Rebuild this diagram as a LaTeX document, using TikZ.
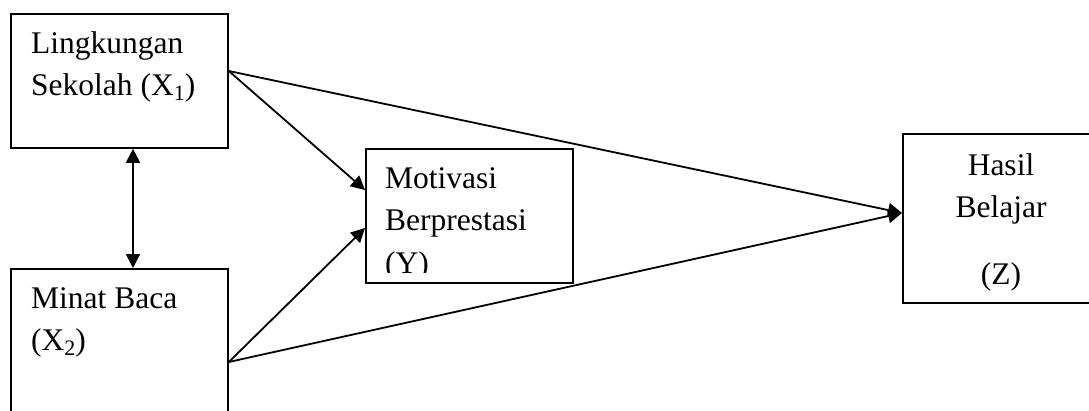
\documentclass[tikz,border=0pt]{standalone}
\usepackage{fontspec}
\setmainfont{Liberation Serif}
\usetikzlibrary{arrows.meta}
\newcommand\lowidx[1]{\raisebox{-5pt}{\fontsize{22}{22}\selectfont #1}}
\tikzset{
  box/.style={draw, line width=1.8pt, inner sep=0pt, anchor=north west},
  label/.style={anchor=base west, inner sep=0pt, font=\fontsize{31.5}{38}\selectfont},
  clabel/.style={anchor=base, inner sep=0pt, font=\fontsize{31.5}{38}\selectfont},
  link/.style={line width=1.8pt, -{Triangle[length=14pt,width=14pt]}},
  bilink/.style={line width=1.8pt, {Triangle[length=14pt,width=14pt]}-{Triangle[length=14pt,width=14pt]}}
}
\begin{document}
\begin{tikzpicture}[x=1pt,y=-1pt]
  \useasboundingbox (0,0) rectangle (1089,410);
  \clip (0,0) rectangle (1089,410);

  % boxes
  \node[box, minimum width=217pt, minimum height=134pt] (x1) at (10,13) {};
  \node[box, minimum width=217pt, minimum height=150pt] (x2) at (10,268) {};
  \node[box, minimum width=207pt, minimum height=134pt] (y) at (365,148) {};
  \node[box, minimum width=200pt, minimum height=169pt] (z) at (902,133) {};

  % box texts
  \node[label] (x1a) at (31,53) {Lingkungan};
  \node[label] (x1b) at (31,95) {Sekolah (X\lowidx{1})};
  \node[label] (x2a) at (31,308) {Minat Baca};
  \node[label] (x2b) at (31,350) {(X\lowidx{2})};
  \begin{scope}
    \clip (365,140) rectangle (572,272);
    \node[label] (ya) at (385,188) {Motivasi};
    \node[label] (yb) at (385,230) {Berprestasi};
    \node[label] (yc) at (385,273) {(Y)};
  \end{scope}
  \node[clabel] (za) at (1001,175) {Hasil};
  \node[clabel] (zb) at (1001,217) {Belajar};
  \node[clabel] (zc) at (1001,284) {(Z)};

  % connector ports
  \coordinate (x1out) at ([yshift=-58pt]x1.north east);
  \coordinate (x2out) at ([yshift=-94pt]x2.north east);
  \coordinate (yin1) at ([yshift=-42pt]y.north west);
  \coordinate (yin2) at ([yshift=-80pt]y.north west);
  \coordinate (zin) at ([yshift=-80pt]z.north west);
  \coordinate (x1bot) at (x1.south -| 133,0);
  \coordinate (x2top) at (x2.north -| 133,0);

  % connectors
  \draw[bilink] (x1bot) -- (x2top);
  \draw[link] (x1out) -- (yin1);
  \draw[link] (x1out) -- (zin);
  \draw[link] (x2out) -- (yin2);
  \draw[link] (x2out) -- (zin);
\end{tikzpicture}
\end{document}
